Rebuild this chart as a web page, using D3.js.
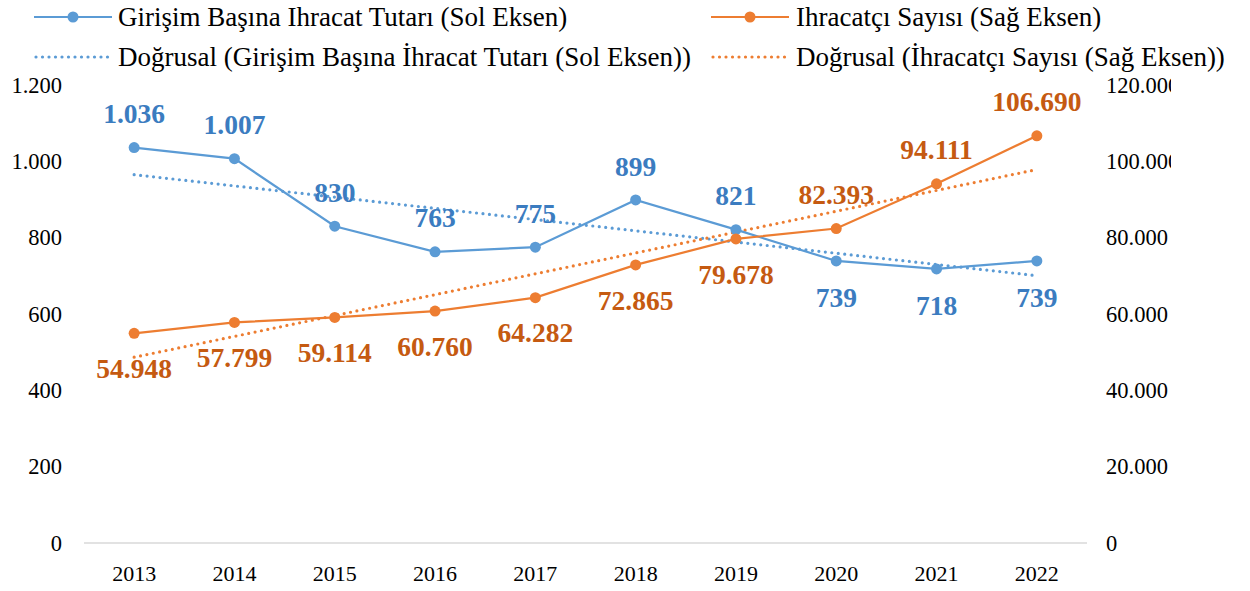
<!DOCTYPE html>
<html><head><meta charset="utf-8">
<script src="https://cdn.jsdelivr.net/npm/d3@7"></script>
<style>body{margin:0;background:#fff}svg{display:block}</style>
</head><body>
<script>
const years = ["2013","2014","2015","2016","2017","2018","2019","2020","2021","2022"];
const perFirm = [1036,1007,830,763,775,899,821,739,718,739];
const exporters = [54948,57799,59114,60760,64282,72865,79678,82393,94111,106690];
const leftTicks = [0,200,400,600,800,1000,1200];
const rightTicks = [0,20000,40000,60000,80000,100000,120000];
const blueLabelBelow = [false,false,false,false,false,false,false,true,true,true];
const orangeLabelBelow = [true,true,true,true,true,true,true,false,false,false];
const legendNames = ["Girişim Başına Ihracat Tutarı (Sol Eksen)","Ihracatçı Sayısı (Sağ Eksen)","Doğrusal (Girişim Başına İhracat Tutarı (Sol Eksen))","Doğrusal (İhracatçı Sayısı (Sağ Eksen))"];

const W=1250,H=591;
const blue="#5b9bd5", orange="#ed7d31", blueTxt="#3b7cc0", orangeTxt="#c55a11";
const font="Liberation Serif, Times New Roman, serif";
const svg=d3.select("body").append("svg").attr("width",W).attr("height",H).style("font-family",font);
const x=d3.scaleBand().domain(years).range([84,1087]);
const yL=d3.scaleLinear().domain([0,1200]).range([543,85]);
const yR=d3.scaleLinear().domain([0,120000]).range([543,85]);
const cx=d=>x(d)+x.bandwidth()/2;
const fmt=d3.formatLocale({decimal:",",thousands:".",grouping:[3]}).format(",d");

svg.append("defs").append("clipPath").attr("id","rc").append("rect").attr("x",0).attr("y",0).attr("width",1171).attr("height",H);

// baseline
svg.append("line").attr("x1",84).attr("x2",1087).attr("y1",yL(0)).attr("y2",yL(0)).attr("stroke","#d9d9d9").attr("stroke-width",1.5);

// axes
const gl=svg.append("g").attr("transform","translate(62,0)").call(d3.axisLeft(yL).tickValues(leftTicks).tickFormat(fmt).tickSize(0).tickPadding(0));
gl.attr("font-family",null);
gl.select(".domain").remove();
gl.selectAll("text").attr("font-family",font).attr("font-size",22.5).attr("fill","#000");
const gr=svg.append("g").attr("clip-path","url(#rc)").append("g").attr("transform","translate(1106,0)").call(d3.axisRight(yR).tickValues(rightTicks).tickFormat(fmt).tickSize(0).tickPadding(0));
gr.attr("font-family",null);
gr.select(".domain").remove();
gr.selectAll("text").attr("font-family",font).attr("font-size",22.5).attr("fill","#000");
const gx=svg.append("g").attr("transform","translate(0,"+(yL(0)+14)+")").call(d3.axisBottom(x).tickSize(0).tickPadding(8));
gx.attr("font-family",null);
gx.select(".domain").remove();
gx.selectAll("text").attr("font-family",font).attr("font-size",22).attr("fill","#000");

// linear fits
function fit(vals){const n=vals.length,mx=(n-1)/2,my=d3.mean(vals);let sxy=0,sxx=0;vals.forEach((v,i)=>{sxy+=(i-mx)*(v-my);sxx+=(i-mx)*(i-mx);});const b=sxy/sxx;return vals.map((v,i)=>my+b*(i-mx));}
const tb=fit(perFirm), to=fit(exporters);
const lineL=d3.line().x((d,i)=>cx(years[i])).y(d=>yL(d));
const lineR=d3.line().x((d,i)=>cx(years[i])).y(d=>yR(d));
svg.append("path").attr("d",lineL(tb)).attr("fill","none").attr("stroke",blue).attr("stroke-width",3.2).attr("stroke-dasharray","0 6.5").attr("stroke-linecap","round");
svg.append("path").attr("d",lineR(to)).attr("fill","none").attr("stroke",orange).attr("stroke-width",3.2).attr("stroke-dasharray","0 6.5").attr("stroke-linecap","round");

// series
svg.append("path").attr("d",lineL(perFirm)).attr("fill","none").attr("stroke",blue).attr("stroke-width",2.2);
svg.append("path").attr("d",lineR(exporters)).attr("fill","none").attr("stroke",orange).attr("stroke-width",2.2);
svg.selectAll(".pb").data(perFirm).enter().append("circle").attr("cx",(d,i)=>cx(years[i])).attr("cy",d=>yL(d)).attr("r",5.5).attr("fill",blue);
svg.selectAll(".po").data(exporters).enter().append("circle").attr("cx",(d,i)=>cx(years[i])).attr("cy",d=>yR(d)).attr("r",5.5).attr("fill",orange);

// labels
svg.selectAll(".lb").data(perFirm).enter().append("text").attr("x",(d,i)=>cx(years[i])).attr("y",(d,i)=>yL(d)+(blueLabelBelow[i]?36:-34)).attr("dy","0.35em").attr("text-anchor","middle").attr("font-family",font).attr("font-size",27.5).attr("font-weight","bold").attr("fill",blueTxt).text(d=>fmt(d));
svg.selectAll(".lo").data(exporters).enter().append("text").attr("x",(d,i)=>cx(years[i])).attr("y",(d,i)=>yR(d)+(orangeLabelBelow[i]?35:-34)).attr("dy","0.35em").attr("text-anchor","middle").attr("font-family",font).attr("font-size",27.5).attr("font-weight","bold").attr("fill",orangeTxt).text(d=>fmt(d));

// legend
const leg=[{x:34,y:17,c:blue,t:"solid",n:legendNames[0]},{x:711,y:17,c:orange,t:"solid",n:legendNames[1]},{x:34,y:57,c:blue,t:"dot",n:legendNames[2]},{x:711,y:57,c:orange,t:"dot",n:legendNames[3]}];
leg.forEach(l=>{
  const g=svg.append("g");
  if(l.t==="solid"){
    g.append("line").attr("x1",l.x).attr("x2",l.x+78).attr("y1",l.y).attr("y2",l.y).attr("stroke",l.c).attr("stroke-width",2.2);
    g.append("circle").attr("cx",l.x+39).attr("cy",l.y).attr("r",5.5).attr("fill",l.c);
  } else {
    g.append("line").attr("x1",l.x+2).attr("x2",l.x+78).attr("y1",l.y).attr("y2",l.y).attr("stroke",l.c).attr("stroke-width",3.2).attr("stroke-dasharray","0 6.5").attr("stroke-linecap","round");
  }
  g.append("text").attr("x",l.x+(l.x<100?84:85)).attr("y",l.y).attr("dy","0.35em").attr("font-family",font).attr("font-size",27).attr("fill","#000").text(l.n);
});
</script>
</body></html>
